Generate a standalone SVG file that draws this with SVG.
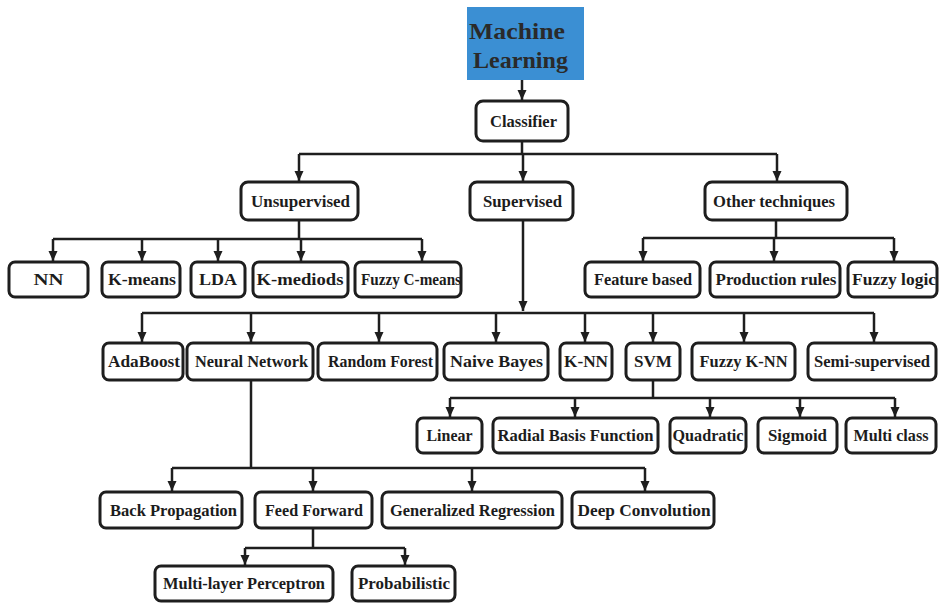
<svg xmlns="http://www.w3.org/2000/svg" width="939" height="603" viewBox="0 0 939 603">
<defs>
<marker id="ah" markerUnits="userSpaceOnUse" viewBox="0 0 10 10" markerWidth="10" markerHeight="10" refX="10" refY="5" orient="auto">
<path d="M0,0.5 L10,5 L0,9.5 z" fill="#1e1e1e"/>
</marker>
<style>
.b{fill:#fff;stroke:#1e1e1e;stroke-width:3}
.t{font-family:"Liberation Serif","Times New Roman",serif;font-weight:bold;font-size:17.5px;fill:#1c1c1c;text-anchor:middle}
.m{font-family:"Liberation Serif","Times New Roman",serif;font-weight:bold;font-size:24px;fill:#2a2a2a;text-anchor:middle}
.c line{stroke:#1e1e1e;stroke-width:2.5}
.a{marker-end:url(#ah)}
</style>
</defs>
<rect width="939" height="603" fill="#fff"/>

<g class="c" id="connectors">
<line class="a" x1="522" y1="80" x2="522" y2="100"/>
<line x1="522" y1="141" x2="522" y2="154"/>
<line x1="299" y1="154" x2="777" y2="154"/>
<line class="a" x1="299" y1="154" x2="299" y2="181"/>
<line class="a" x1="523" y1="154" x2="523" y2="181"/>
<line class="a" x1="777" y1="154" x2="777" y2="181"/>
<!-- unsupervised -->
<line x1="299" y1="220" x2="299" y2="239"/>
<line x1="53" y1="239" x2="422" y2="239"/>
<line class="a" x1="53" y1="239" x2="53" y2="261"/>
<line class="a" x1="142" y1="239" x2="142" y2="261"/>
<line class="a" x1="218" y1="239" x2="218" y2="261"/>
<line class="a" x1="301" y1="239" x2="301" y2="261"/>
<line class="a" x1="422" y1="239" x2="422" y2="261"/>
<!-- other techniques -->
<line x1="776" y1="220" x2="776" y2="238"/>
<line x1="643" y1="238" x2="894" y2="238"/>
<line class="a" x1="643" y1="238" x2="643" y2="261"/>
<line class="a" x1="774" y1="238" x2="774" y2="261"/>
<line class="a" x1="894" y1="238" x2="894" y2="261"/>
<!-- supervised -->
<line class="a" x1="523" y1="220" x2="523" y2="311"/>
<line x1="142" y1="313" x2="874" y2="313"/>
<line class="a" x1="142" y1="313" x2="142" y2="342"/>
<line class="a" x1="251" y1="313" x2="251" y2="342"/>
<line class="a" x1="379" y1="313" x2="379" y2="342"/>
<line class="a" x1="496" y1="313" x2="496" y2="342"/>
<line class="a" x1="585" y1="313" x2="585" y2="342"/>
<line class="a" x1="653" y1="313" x2="653" y2="342"/>
<line class="a" x1="744" y1="313" x2="744" y2="342"/>
<line class="a" x1="874" y1="313" x2="874" y2="342"/>
<!-- SVM -->
<line x1="653" y1="380" x2="653" y2="398"/>
<line x1="450" y1="398" x2="895" y2="398"/>
<line class="a" x1="450" y1="398" x2="450" y2="417"/>
<line class="a" x1="575" y1="398" x2="575" y2="417"/>
<line class="a" x1="710" y1="398" x2="710" y2="417"/>
<line class="a" x1="800" y1="398" x2="800" y2="417"/>
<line class="a" x1="895" y1="398" x2="895" y2="417"/>
<!-- neural network -->
<line x1="251" y1="380" x2="251" y2="468"/>
<line x1="172" y1="468" x2="645" y2="468"/>
<line class="a" x1="172" y1="468" x2="172" y2="491"/>
<line class="a" x1="313" y1="468" x2="313" y2="491"/>
<line class="a" x1="472" y1="468" x2="472" y2="491"/>
<line class="a" x1="645" y1="468" x2="645" y2="491"/>
<!-- feed forward -->
<line x1="313" y1="528" x2="313" y2="548"/>
<line x1="245" y1="548" x2="405" y2="548"/>
<line class="a" x1="245" y1="548" x2="245" y2="565"/>
<line class="a" x1="405" y1="548" x2="405" y2="565"/>
</g>

<g id="machine-learning">
<rect x="467" y="7" width="117" height="73" fill="#3b8fd3"/>
<text class="m" x="517" y="39" textLength="96" lengthAdjust="spacingAndGlyphs">Machine</text>
<text class="m" x="520.5" y="68" textLength="95" lengthAdjust="spacingAndGlyphs">Learning</text>
</g>
<g id="classifier"><rect class="b" x="476" y="101" width="92" height="40" rx="7"/><text class="t" x="523.5" y="127" textLength="67" lengthAdjust="spacingAndGlyphs">Classifier</text></g>

<g id="unsupervised"><rect class="b" x="241" y="182" width="117" height="38" rx="7"/><text class="t" x="300.5" y="207" textLength="99" lengthAdjust="spacingAndGlyphs">Unsupervised</text></g>
<g id="supervised"><rect class="b" x="470" y="182" width="103" height="38" rx="7"/><text class="t" x="522.5" y="207" textLength="79" lengthAdjust="spacingAndGlyphs">Supervised</text></g>
<g id="other-techniques"><rect class="b" x="705" y="182" width="142" height="38" rx="7"/><text class="t" x="774" y="207" textLength="122" lengthAdjust="spacingAndGlyphs">Other techniques</text></g>

<g id="nn"><rect class="b" x="9" y="262" width="79" height="35" rx="6"/><text class="t" x="48.5" y="285" textLength="30" lengthAdjust="spacingAndGlyphs">NN</text></g>
<g id="k-means"><rect class="b" x="102" y="262" width="78" height="35" rx="6"/><text class="t" x="142" y="285" textLength="68" lengthAdjust="spacingAndGlyphs">K-means</text></g>
<g id="lda"><rect class="b" x="191" y="262" width="54" height="35" rx="6"/><text class="t" x="218" y="285" textLength="38" lengthAdjust="spacingAndGlyphs">LDA</text></g>
<g id="k-mediods"><rect class="b" x="253" y="262" width="95" height="35" rx="6"/><text class="t" x="300" y="285" textLength="87" lengthAdjust="spacingAndGlyphs">K-mediods</text></g>
<g id="fuzzy-c-means"><rect class="b" x="355" y="262" width="106" height="35" rx="6"/><text class="t" x="411" y="285" textLength="100" lengthAdjust="spacingAndGlyphs">Fuzzy C-means</text></g>

<g id="feature-based"><rect class="b" x="585" y="262" width="115" height="35" rx="6"/><text class="t" x="643" y="285" textLength="98" lengthAdjust="spacingAndGlyphs">Feature based</text></g>
<g id="production-rules"><rect class="b" x="710" y="262" width="130" height="35" rx="6"/><text class="t" x="776" y="285" textLength="121" lengthAdjust="spacingAndGlyphs">Production rules</text></g>
<g id="fuzzy-logic"><rect class="b" x="848" y="262" width="89" height="35" rx="6"/><text class="t" x="894" y="285" textLength="84" lengthAdjust="spacingAndGlyphs">Fuzzy logic</text></g>

<g id="adaboost"><rect class="b" x="103" y="343" width="80" height="37" rx="6"/><text class="t" x="144" y="367" textLength="72" lengthAdjust="spacingAndGlyphs">AdaBoost</text></g>
<g id="neural-network"><rect class="b" x="187" y="343" width="126" height="37" rx="6"/><text class="t" x="251.5" y="367" textLength="113" lengthAdjust="spacingAndGlyphs">Neural Network</text></g>
<g id="random-forest"><rect class="b" x="318" y="343" width="119" height="37" rx="6"/><text class="t" x="380.5" y="367" textLength="105" lengthAdjust="spacingAndGlyphs">Random Forest</text></g>
<g id="naive-bayes"><rect class="b" x="444" y="343" width="104" height="37" rx="6"/><text class="t" x="496.5" y="367" textLength="93" lengthAdjust="spacingAndGlyphs">Naive Bayes</text></g>
<g id="k-nn"><rect class="b" x="560" y="343" width="52" height="37" rx="6"/><text class="t" x="586" y="367" textLength="44" lengthAdjust="spacingAndGlyphs">K-NN</text></g>
<g id="svm"><rect class="b" x="626" y="343" width="54" height="37" rx="6"/><text class="t" x="653" y="367" textLength="38" lengthAdjust="spacingAndGlyphs">SVM</text></g>
<g id="fuzzy-k-nn"><rect class="b" x="692" y="343" width="103" height="37" rx="6"/><text class="t" x="743.5" y="367" textLength="88" lengthAdjust="spacingAndGlyphs">Fuzzy K-NN</text></g>
<g id="semi-supervised"><rect class="b" x="808" y="343" width="128" height="37" rx="6"/><text class="t" x="872" y="367" textLength="116" lengthAdjust="spacingAndGlyphs">Semi-supervised</text></g>

<g id="linear"><rect class="b" x="417" y="418" width="65" height="35" rx="6"/><text class="t" x="449.5" y="441" textLength="46" lengthAdjust="spacingAndGlyphs">Linear</text></g>
<g id="radial-basis-function"><rect class="b" x="493" y="418" width="165" height="35" rx="6"/><text class="t" x="575.5" y="441" textLength="156" lengthAdjust="spacingAndGlyphs">Radial Basis Function</text></g>
<g id="quadratic"><rect class="b" x="670" y="418" width="76" height="35" rx="6"/><text class="t" x="708" y="441" textLength="71" lengthAdjust="spacingAndGlyphs">Quadratic</text></g>
<g id="sigmoid"><rect class="b" x="758" y="418" width="79" height="35" rx="6"/><text class="t" x="797.5" y="441" textLength="59" lengthAdjust="spacingAndGlyphs">Sigmoid</text></g>
<g id="multi-class"><rect class="b" x="846" y="418" width="90" height="35" rx="6"/><text class="t" x="891" y="441" textLength="75" lengthAdjust="spacingAndGlyphs">Multi class</text></g>

<g id="back-propagation"><rect class="b" x="100" y="492" width="142" height="36" rx="6"/><text class="t" x="173.5" y="516" textLength="127" lengthAdjust="spacingAndGlyphs">Back Propagation</text></g>
<g id="feed-forward"><rect class="b" x="255" y="492" width="117" height="36" rx="6"/><text class="t" x="314" y="516" textLength="98" lengthAdjust="spacingAndGlyphs">Feed Forward</text></g>
<g id="generalized-regression"><rect class="b" x="382" y="492" width="180" height="36" rx="6"/><text class="t" x="472.5" y="516" textLength="165" lengthAdjust="spacingAndGlyphs">Generalized Regression</text></g>
<g id="deep-convolution"><rect class="b" x="572" y="492" width="142" height="36" rx="6"/><text class="t" x="644" y="516" textLength="133" lengthAdjust="spacingAndGlyphs">Deep Convolution</text></g>

<g id="multi-layer-perceptron"><rect class="b" x="155" y="566" width="178" height="35" rx="6"/><text class="t" x="244" y="589" textLength="162" lengthAdjust="spacingAndGlyphs">Multi-layer Perceptron</text></g>
<g id="probabilistic"><rect class="b" x="352" y="566" width="103" height="35" rx="6"/><text class="t" x="404" y="589" textLength="92" lengthAdjust="spacingAndGlyphs">Probabilistic</text></g>
</svg>
